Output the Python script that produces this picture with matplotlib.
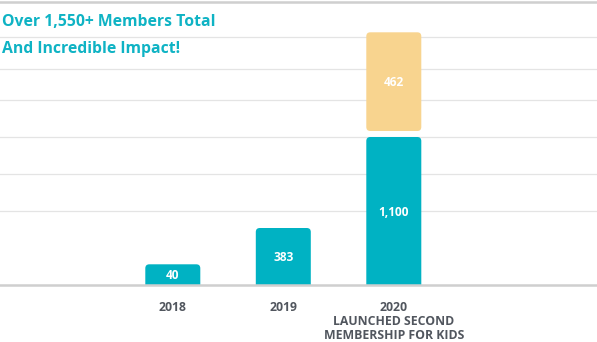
import numpy as np
import matplotlib
matplotlib.use("Agg")
import matplotlib.pyplot as plt
from matplotlib.patches import FancyBboxPatch
from matplotlib.transforms import IdentityTransform

# ---- data ----
years = ["2018", "2019", "2020\nLAUNCHED SECOND\nMEMBERSHIP FOR KIDS"]
members = [40, 383, 1100]
kids_members = [0, 0, 462]
title_lines = ["Over 1,550+ Members Total", "And Incredible Impact!"]

# ---- style ----
TEAL = "#00B2C3"
GOLD = "#F8D48F"
TITLE_C = "#0FB3C4"
TICK_C = "#51565E"
GRID_C = "#E4E4E4"
AXIS_C = "#CFCFCF"
FONT = "Open Sans"

W, H = 597, 342
BASE = 285  # baseline y (px from top)
fig = plt.figure(figsize=(W / 100, H / 100), dpi=100)
ax = fig.add_axes([0, (H - BASE) / H, 1, (BASE - 1) / H])

# the original chart uses a non-proportional value axis; emulate it with a
# monotone piecewise scale (value -> pixel height above baseline)
kv = np.array([0, 40, 383, 1100, 1562, 2200], dtype=float)
kp = np.array([0, 20.7, 57, 148, 252.7, 284], dtype=float)
fwd = lambda v: np.interp(v, kv, kp)
inv = lambda p: np.interp(p, kp, kv)
ax.set_yscale("function", functions=(fwd, inv))

x = np.arange(len(years))
step = 110.5
c0 = 172.8
ax.set_xlim(-c0 / step, (W - c0) / step)
ax.set_ylim(0, 2200)

bars1 = ax.bar(x, members, width=55 / step, color=TEAL)
bars2 = ax.bar(x, kids_members, bottom=members, width=55 / step, color=GOLD)

for s in ax.spines.values():
    s.set_visible(False)
ax.set_yticks([])
ax.set_xticks(x, years)
ax.tick_params(axis="x", length=0, pad=11.5)
for lab in ax.get_xticklabels():
    lab.set_fontfamily(FONT)
    lab.set_fontweight("bold")
    lab.set_fontsize(8.8)
    lab.set_color(TICK_C)
    lab.set_linespacing(1.12)

# grid lines (px from top)
for yy in [37, 69, 100, 137, 174, 211]:
    f = (BASE - yy) / (BASE - 1)
    ax.plot([0, 1], [f, f], transform=ax.transAxes, color=GRID_C, lw=0.9, zorder=0)
ax.plot([0, 1], [0.996, 0.996], transform=ax.transAxes, color=AXIS_C, lw=1.8,
        zorder=0, clip_on=False)
ax.plot([0, 1], [0, 0], transform=ax.transAxes, color=AXIS_C, lw=1.8,
        zorder=3, clip_on=False)

fig.canvas.draw()
R = 4
GAP = 6
for group, on_base, vals in [(bars1, True, members), (bars2, False, kids_members)]:
    for rect, v in zip(group, vals):
        bb = rect.get_window_extent()
        rect.set_visible(False)
        if v <= 0:
            continue
        x0, x1, y0, y1 = bb.x0, bb.x1, bb.y0, bb.y1
        if on_base:
            y0b = y0 - 2 * R
        else:
            y0b = y0 + GAP
        p = FancyBboxPatch((x0 + R, y0b + R), (x1 - x0) - 2 * R, (y1 - y0b) - 2 * R,
                           boxstyle=f"round,pad={R}",
                           transform=IdentityTransform(),
                           facecolor=rect.get_facecolor(), edgecolor="none",
                           zorder=2)
        ax.add_artist(p)
        ym = (y0 + (GAP if not on_base else 0) + y1) / 2
        lab = f"{v:,}"
        ax.text((x0 + x1) / 2, ym - 1, lab, transform=IdentityTransform(),
                ha="center", va="center", color="white", fontweight="bold",
                fontfamily=FONT, fontsize=8.6, zorder=4)

# title
fig.text(2 / W, 1 - 26 / H, title_lines[0], ha="left", va="baseline",
         color=TITLE_C, fontweight="bold", fontfamily=FONT, fontsize=11.3)
fig.text(2 / W, 1 - 52.7 / H, title_lines[1], ha="left", va="baseline",
         color=TITLE_C, fontweight="bold", fontfamily=FONT, fontsize=11.3)

fig.savefig("out.png", dpi=100, facecolor="white")
